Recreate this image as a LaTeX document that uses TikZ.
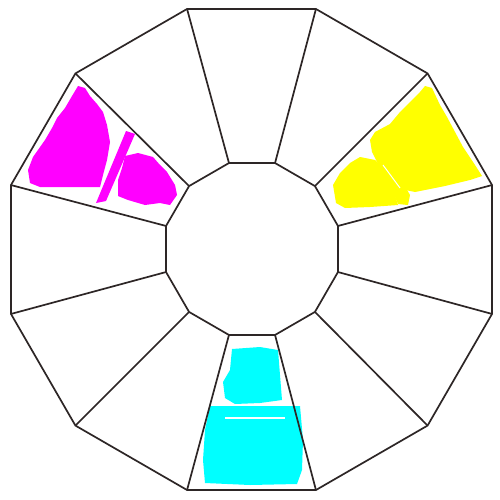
\documentclass[tikz,border=0pt]{standalone}
\begin{document}
\begin{tikzpicture}[x=1pt,y=-1pt,
  edge/.style={draw={rgb,255:red,45;green,38;blue,38},line width=1.7pt,line join=round},
  blobm/.style={fill={rgb,255:red,255;green,0;blue,255}},
  bloby/.style={fill={rgb,255:red,255;green,255;blue,0}},
  blobc/.style={fill={rgb,255:red,0;green,255;blue,255}}]
\useasboundingbox (0,0) rectangle (500,500);
\fill[white] (0,0) rectangle (500,500);
\foreach \k in {1,...,12} {
  \pgfmathsetmacro\a{15+30*(\k-1)}
  \coordinate (o\k) at ({251.5+249*cos(\a)},{249.5-249*sin(\a)});
  \coordinate (i\k) at ({252+89*cos(\a)},{249-89*sin(\a)});
}
% magenta
\path[blobm] (78,86) -- (85,88) -- (90,96) -- (97,104) -- (103,112) -- (107,125) -- (110,142) -- (107,160) -- (103,175) -- (100,187) -- (70,187) -- (40,187) -- (30,183) -- (28,170) -- (33,157) -- (45,140) -- (52,128) -- (57,118) -- (65,108) -- (72,96) -- cycle;
\path[blobm] (126,131) -- (135,134) -- (106,201) -- (96,203) -- cycle;
\path[blobm] (125,156) -- (138,153) -- (153,157) -- (160,165) -- (167,172) -- (175,185) -- (177,195) -- (170,205) -- (160,203) -- (145,205) -- (128,200) -- (118,196) -- (118,180) -- (122,168) -- cycle;
% yellow
\path[bloby] (425,86) -- (432,88) -- (440,105) -- (447,117) -- (455,132) -- (463,147) -- (475,165) -- (482,176) -- (470,180) -- (445,186) -- (415,192) -- (405,190) -- (392,180) -- (380,168) -- (372,152) -- (370,140) -- (375,132) -- (390,124) -- (400,112) -- (412,100) -- (420,92) -- cycle;
\path[bloby] (378,155) -- (390,160) -- (410,195) -- (408,205) -- (398,204) -- (390,185) -- cycle;
\path[bloby] (360,157) -- (375,160) -- (385,170) -- (392,185) -- (398,205) -- (370,207) -- (345,208) -- (336,203) -- (333,185) -- (340,173) -- (350,163) -- cycle;
\draw[white,line width=1pt] (383,165) -- (400,188);
% cyan
\path[blobc] (232,349) -- (260,347) -- (278,350) -- (280,375) -- (282,400) -- (260,403) -- (235,404) -- (225,398) -- (223,382) -- (230,370) -- cycle;
\path[blobc] (210,406) -- (300,406) -- (303,440) -- (302,470) -- (297,484) -- (250,485) -- (205,483) -- (203,460) -- (205,430) -- cycle;
\draw[white,line width=1.5pt] (225,418) -- (285,418);
% structure
\draw[edge] (o1) -- (o2) -- (o3) -- (o4) -- (o5) -- (o6) -- (o7) -- (o8) -- (o9) -- (o10) -- (o11) -- (o12) -- cycle;
\draw[edge] (i1) -- (i2) -- (i3) -- (i4) -- (i5) -- (i6) -- (i7) -- (i8) -- (i9) -- (i10) -- (i11) -- (i12) -- cycle;
\foreach \k in {1,...,12} { \draw[edge] (i\k) -- (o\k); }
\end{tikzpicture}
\end{document}
